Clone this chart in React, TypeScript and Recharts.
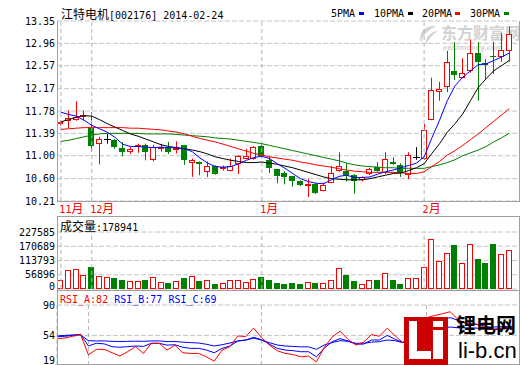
import React from "react";
import {
  ComposedChart,
  Bar,
  Line,
  XAxis,
  YAxis,
  CartesianGrid,
  ReferenceLine,
} from "recharts";

// trading days shown on the chart (2013-11-26 .. 2014-02-24)
const dates = [
  "11-26", "11-27", "11-28", "11-29",
  "12-02", "12-03", "12-04", "12-05", "12-06", "12-09", "12-10", "12-11",
  "12-12", "12-13", "12-16", "12-17", "12-18", "12-19", "12-20", "12-23",
  "12-24", "12-25", "12-26", "12-27", "12-30", "12-31",
  "01-02", "01-03", "01-06", "01-07", "01-08", "01-09", "01-10", "01-13",
  "01-14", "01-15", "01-16", "01-17", "01-20", "01-21", "01-22", "01-23",
  "01-24", "01-27", "01-28", "01-29", "01-30",
  "02-07", "02-10", "02-11", "02-12", "02-13", "02-14", "02-17", "02-18",
  "02-19", "02-20", "02-21", "02-24",
];

const opens = [
  11.55, 11.6, 11.63, 11.68, 11.49, 11.21, 11.3, 11.27, 11.14, 11.07, 11.16, 11.19,
  10.92, 11.11, 11.14, 11.11, 11.18, 10.88, 10.89, 10.71, 10.82, 10.78, 10.74, 10.85,
  10.95, 10.94, 11.17, 10.92, 10.76, 10.7, 10.64, 10.56, 10.47, 10.5, 10.39, 10.53,
  10.73, 10.73, 10.66, 10.57, 10.68, 10.81, 10.69, 10.89, 10.83, 10.66, 10.98, 10.95,
  11.63, 12.12, 12.19, 12.48, 12.36, 12.47, 12.8, 12.61, 12.74, 12.73, 12.82,
];
const highs = [
  11.61, 11.79, 11.95, 11.79, 11.76, 11.33, 11.38, 11.29, 11.24, 11.15, 11.21, 11.21,
  11.19, 11.21, 11.24, 11.25, 11.19, 10.95, 10.9, 10.9, 10.83, 10.83, 10.95, 11.01,
  11.12, 11.17, 11.19, 10.99, 10.77, 10.73, 10.65, 10.57, 10.6, 10.52, 10.53, 10.82,
  11.06, 10.87, 10.68, 10.64, 10.79, 10.89, 11.06, 10.97, 10.87, 11.06, 11.15, 11.55,
  12.36, 12.29, 12.83, 12.98, 12.7, 13.03, 12.98, 12.69, 12.99, 13.14, 13.25,
];
const lows = [
  11.53, 11.48, 11.61, 11.62, 11.07, 10.85, 11.21, 11.12, 10.99, 11.03, 11.05, 10.92,
  10.9, 11.07, 11.03, 11.04, 10.84, 10.63, 10.66, 10.63, 10.67, 10.74, 10.73, 10.68,
  10.94, 10.93, 10.97, 10.7, 10.52, 10.5, 10.46, 10.47, 10.28, 10.33, 10.38, 10.52,
  10.72, 10.55, 10.34, 10.55, 10.66, 10.72, 10.68, 10.84, 10.63, 10.59, 10.93, 10.93,
  11.62, 11.96, 12.11, 12.32, 12.35, 12.45, 11.96, 12.34, 12.43, 12.64, 12.64,
];
const closes = [
  11.59, 11.65, 11.68, 11.71, 11.17, 11.3, 11.3, 11.15, 11.06, 11.12, 11.18, 11.06,
  11.15, 11.15, 11.06, 11.14, 10.92, 10.92, 10.85, 10.82, 10.68, 10.8, 10.82, 10.99,
  10.99, 11.15, 11.0, 10.79, 10.64, 10.62, 10.56, 10.49, 10.51, 10.35, 10.49, 10.69,
  10.82, 10.66, 10.56, 10.62, 10.76, 10.74, 10.95, 10.85, 10.69, 11.02, 10.98, 11.44,
  12.15, 12.17, 12.63, 12.41, 12.44, 12.8, 12.64, 12.59, 12.72, 12.84, 13.13,
];
const volumes = [
  35600, 77700, 81700, 55300, 86900, 50000, 47400, 43500, 35600, 31600, 31600, 35600,
  47400, 29000, 25000, 31600, 44800, 50000, 31600, 35600, 21000, 25000, 34200, 34200,
  29000, 39500, 46000, 35600, 23700, 19800, 23700, 19800, 27700, 23700, 23700, 34200,
  85600, 55300, 31600, 18400, 34000, 34000, 62000, 34000, 20000, 42000, 42000, 88200,
  200200, 113300, 144900, 173800, 105400, 180400, 118500, 102700, 177800, 140900, 156700,
];

const ma5 = [
  11.76, 11.72, 11.69, 11.62, 11.53, 11.47, 11.41, 11.32, 11.2, 11.16, 11.16, 11.15,
  11.14, 11.15, 11.14, 11.14, 11.12, 11.07, 10.96, 10.87, 10.81, 10.8, 10.81, 10.86,
  10.92, 10.97, 10.99, 10.95, 10.86, 10.78, 10.69, 10.6, 10.55, 10.52, 10.51, 10.58,
  10.64, 10.66, 10.62, 10.62, 10.63, 10.68, 10.72, 10.75, 10.79, 10.83, 10.87, 10.98,
  11.31, 11.62, 11.96, 12.22, 12.37, 12.48, 12.59, 12.6, 12.66, 12.72, 12.79,
];
const ma10 = [
  11.59, 11.63, 11.67, 11.7, 11.69, 11.63, 11.56, 11.5, 11.44, 11.38, 11.34, 11.29,
  11.24, 11.19, 11.16, 11.14, 11.12, 11.1, 11.07, 11.03, 10.98, 10.95, 10.92, 10.9,
  10.88, 10.88, 10.89, 10.87, 10.85, 10.82, 10.79, 10.75, 10.71, 10.67, 10.63, 10.6,
  10.59, 10.58, 10.58, 10.58, 10.6, 10.63, 10.66, 10.69, 10.7, 10.74, 10.79, 10.86,
  11.04, 11.21, 11.41, 11.56, 11.73, 11.96, 12.19, 12.34, 12.48, 12.57, 12.66,
];
const ma20 = [
  11.46, 11.47, 11.48, 11.49, 11.49, 11.49, 11.49, 11.49, 11.49, 11.48, 11.48, 11.47,
  11.46, 11.45, 11.43, 11.41, 11.38, 11.34, 11.3, 11.27, 11.24, 11.2, 11.16, 11.12,
  11.08, 11.04, 11.01, 10.98, 10.96, 10.94, 10.92, 10.89, 10.87, 10.84, 10.82, 10.8,
  10.77, 10.75, 10.73, 10.72, 10.71, 10.71, 10.71, 10.71, 10.7, 10.69, 10.69, 10.72,
  10.81, 10.9, 11.01, 11.09, 11.18, 11.28, 11.38, 11.49, 11.6, 11.71, 11.82,
];
const ma30 = [
  11.25, 11.27, 11.3, 11.33, 11.36, 11.38, 11.39, 11.39, 11.39, 11.39, 11.39, 11.38,
  11.38, 11.38, 11.38, 11.37, 11.36, 11.35, 11.34, 11.33, 11.31, 11.3, 11.29, 11.27,
  11.25, 11.23, 11.21, 11.18, 11.15, 11.12, 11.09, 11.06, 11.03, 11.0, 10.97, 10.94,
  10.91, 10.87, 10.84, 10.82, 10.81, 10.8, 10.79, 10.79, 10.78, 10.78, 10.78, 10.78,
  10.81, 10.84, 10.88, 10.93, 11.0, 11.05, 11.1, 11.16, 11.24, 11.31, 11.39,
];

const rsiA = [
  50, 51, 53, 55, 31, 37.5, 37.5, 33.5, 29.6, 34.9, 40.7, 32.7,
  44.7, 44.7, 36.7, 42.4, 33.5, 32.7, 32.7, 28.7, 23.6, 36.7, 40.7, 53.4,
  52.6, 62.6, 51.8, 42.7, 35.9, 32.8, 31.4, 28.7, 29.5, 22.8, 40, 52,
  59, 49.5, 42.7, 46, 55, 53, 62.6, 53.5, 45.5, 57, 58, 75,
  77.5, 79.6, 82, 73, 68, 68, 65, 61, 62, 63, 64,
];
const rsiB = [
  52.6, 53, 54, 55.4, 41.5, 44.7, 44, 40.7, 40, 40.7, 41.5, 41,
  44.7, 44.7, 42.5, 43, 39.9, 38.7, 38.7, 36.7, 33.5, 38.7, 41.5, 47.4,
  48.6, 51.8, 49, 43.9, 38.7, 36.7, 36, 34.7, 34.7, 28.7, 39, 46.6,
  50.2, 47.5, 43.7, 43.7, 48.6, 48.6, 54, 49.5, 45.5, 51, 53, 66,
  71, 73, 75, 72, 69, 68, 66, 64, 64, 64.5, 65,
];
const rsiC = [
  53.4, 54, 54.6, 54.6, 47.8, 47.5, 47.5, 47, 46.8, 47, 47.2, 47,
  47.5, 47.5, 46.6, 46.8, 46, 45.5, 45, 43.5, 41.5, 43, 45, 47.5,
  48.5, 50.7, 48.6, 45.5, 42.7, 41.5, 41, 40.5, 40.5, 37.5, 42.7, 45.5,
  47.8, 47, 44.7, 44.7, 46, 46.6, 48.6, 47.8, 45.5, 47.5, 49, 55,
  59, 62, 64, 63, 63, 63, 62, 61, 61, 62, 62,
];

const monthStarts = ["11-26", "12-02", "01-02", "02-07"];
const monthLabels = ["11", "12", "1", "2"];
const priceTicks = [10.21, 10.6, 11.0, 11.39, 11.78, 12.17, 12.57, 12.96, 13.35];
const volumeTicks = [0, 56896, 113793, 170689, 227585];
const rsiTicks = [19, 54, 90];

const rows = dates.map((date, i) => ({
  date,
  open: opens[i],
  high: highs[i],
  low: lows[i],
  close: closes[i],
  volume: volumes[i],
  ma5: ma5[i],
  ma10: ma10[i],
  ma20: ma20[i],
  ma30: ma30[i],
  rsiA: rsiA[i],
  rsiB: rsiB[i],
  rsiC: rsiC[i],
}));

const RED = "#ff0000";
const GREEN = "#008000";
const BLUE = "#0000ff";
const GRID = "#c6c6c6";
const FRAME = "#a0a0a0";
const MONTH_LINE = "#b4b4b4";
const MONO = "'DejaVu Sans Mono', 'Liberation Mono', monospace";
const CJK = "'Noto Sans CJK SC', sans-serif";

const candleColor = (d: any) =>
  d.close > d.open ? RED : d.close < d.open ? GREEN : "#000";

const CandleShape = (props: any) => {
  const { x, width, payload } = props;
  const y = Math.min(props.y, props.y + props.height);
  const h = Math.abs(props.height);
  const { open, close, high, low } = payload;
  const n = Math.floor(x + width / 2);
  const cx = n + 0.5;
  const perUnit = high > low ? h / (high - low) : 0;
  const yAt = (v: number) => y + (high - v) * perUnit;
  const top = Math.round(yAt(Math.max(open, close)));
  const bottom = Math.round(yAt(Math.min(open, close)));
  const color = candleColor(payload);

  if (close > open) {
    return (
      <g>
        <line x1={cx} x2={cx} y1={y} y2={top} stroke={color} />
        <line x1={cx} x2={cx} y1={bottom} y2={y + h} stroke={color} />
        <rect
          x={n - 2.5}
          y={top + 0.5}
          width={5}
          height={Math.max(bottom - top - 1, 1)}
          fill="#fff"
          stroke={color}
        />
      </g>
    );
  }
  if (close < open) {
    return (
      <g>
        <line x1={cx} x2={cx} y1={y} y2={y + h} stroke={color} />
        <rect x={n - 3} y={top} width={6} height={Math.max(bottom - top, 1)} fill={color} />
      </g>
    );
  }
  return (
    <g>
      <line x1={cx} x2={cx} y1={y} y2={y + h} stroke={color} />
      <line x1={n - 3} x2={n + 4} y1={top + 0.5} y2={top + 0.5} stroke={color} />
    </g>
  );
};

const VolumeShape = (props: any) => {
  const { x, width, payload } = props;
  const y = Math.min(props.y, props.y + props.height);
  const h = Math.abs(props.height);
  const n = Math.floor(x + width / 2);
  const up = payload.close >= payload.open;
  if (up) {
    return (
      <rect
        x={n - 2.5}
        y={Math.round(y) + 0.5}
        width={5}
        height={Math.max(Math.round(h) - 1, 1)}
        fill="#fff"
        stroke={RED}
      />
    );
  }
  return <rect x={n - 3} y={Math.round(y)} width={6} height={Math.round(h)} fill={GREEN} />;
};

const MonthTick = (props: any) => {
  const { x, payload } = props;
  const idx = monthStarts.indexOf(payload.value);
  if (idx < 0) return <g />;
  return (
    <text x={x - 1.5} y={213} fill={RED}>
      <tspan fontFamily={MONO} fontSize={10}>
        {monthLabels[idx]}
      </tspan>
      <tspan fontFamily={CJK} fontSize={12}>
        月
      </tspan>
    </text>
  );
};

const valueTick = (format: (v: number) => string, minY: number, maxY: number) =>
  (props: any) => {
    const { x, y, payload } = props;
    const ty = Math.max(minY, Math.min(maxY, y));
    return (
      <text
        x={x}
        y={ty}
        dy="0.35em"
        textAnchor="end"
        fontFamily={MONO}
        fontSize={10}
        fill="#000"
      >
        {format(payload.value)}
      </text>
    );
  };

const xPadding = { left: 0, right: 6 };

const monthLines = monthStarts.map((m) => (
  <ReferenceLine key={m} x={m} stroke={MONTH_LINE} strokeDasharray="4 3" />
));

const PriceChart = () => (
  <ComposedChart
    width={520}
    height={216}
    data={rows}
    margin={{ top: 21, right: 1, bottom: 0, left: 0 }}
  >
    <CartesianGrid vertical={false} stroke={GRID} strokeDasharray="5 2" />
    <XAxis
      dataKey="date"
      interval={0}
      height={15}
      tickLine={false}
      axisLine={false}
      padding={xPadding}
      tick={MonthTick}
    />
    <YAxis
      type="number"
      domain={[10.21, 13.35]}
      ticks={priceTicks}
      interval={0}
      width={57}
      allowDataOverflow
      axisLine={false}
      tickLine={false}
      tickSize={0}
      tickMargin={2}
      tick={valueTick((v) => v.toFixed(2), 0, 400)}
    />
    {monthLines}
    <Line dataKey="ma30" stroke={GREEN} strokeWidth={1} dot={false} isAnimationActive={false} />
    <Line dataKey="ma20" stroke={RED} strokeWidth={1} dot={false} isAnimationActive={false} />
    <Line dataKey="ma10" stroke="#000" strokeWidth={1} dot={false} isAnimationActive={false} />
    <Line dataKey="ma5" stroke={BLUE} strokeWidth={1} dot={false} isAnimationActive={false} />
    <Bar
      dataKey={(d: any) => [d.low, d.high]}
      shape={CandleShape}
      isAnimationActive={false}
    />
  </ComposedChart>
);

const VolumeChart = () => (
  <ComposedChart
    width={520}
    height={74}
    data={rows}
    margin={{ top: 16, right: 1, bottom: 1, left: 0 }}
  >
    <CartesianGrid vertical={false} stroke={GRID} strokeDasharray="5 2" />
    <XAxis dataKey="date" hide padding={xPadding} />
    <YAxis
      type="number"
      domain={[0, 227585]}
      ticks={volumeTicks}
      interval={0}
      width={57}
      allowDataOverflow
      axisLine={false}
      tickLine={false}
      tickSize={0}
      tickMargin={2}
      tick={valueTick((v) => String(v), 0, 70)}
    />
    {monthLines}
    <Bar dataKey="volume" shape={VolumeShape} isAnimationActive={false} />
  </ComposedChart>
);

const RsiChart = () => (
  <ComposedChart
    width={520}
    height={75}
    data={rows}
    margin={{ top: 15, right: 1, bottom: 0, left: 0 }}
  >
    <CartesianGrid vertical={false} stroke={GRID} strokeDasharray="5 2" />
    <XAxis dataKey="date" hide padding={xPadding} />
    <YAxis
      type="number"
      domain={[19, 90]}
      ticks={rsiTicks}
      interval={0}
      width={57}
      allowDataOverflow
      axisLine={false}
      tickLine={false}
      tickSize={0}
      tickMargin={2}
      tick={valueTick((v) => String(v), 0, 70)}
    />
    {monthLines}
    <Line dataKey="rsiC" stroke={BLUE} strokeWidth={1} dot={false} isAnimationActive={false} />
    <Line dataKey="rsiB" stroke={BLUE} strokeWidth={1} dot={false} isAnimationActive={false} />
    <Line dataKey="rsiA" stroke={RED} strokeWidth={1} dot={false} isAnimationActive={false} />
  </ComposedChart>
);

const abs = (left: number, top: number, extra: React.CSSProperties = {}): React.CSSProperties => ({
  position: "absolute",
  left,
  top,
  ...extra,
});

const legendItems = [
  { label: "5PMA", color: BLUE, left: 331, mark: 359 },
  { label: "10PMA", color: "#000", left: 374, mark: 408 },
  { label: "20PMA", color: RED, left: 422, mark: 455 },
  { label: "30PMA", color: GREEN, left: 470, mark: 504 },
];

export default function App() {
  return (
    <div
      style={{
        position: "absolute",
        left: 0,
        top: 0,
        width: 520,
        height: 365,
        background: "#fff",
        overflow: "hidden",
        fontFamily: MONO,
        color: "#000",
      }}
    >
      {/* eastmoney watermark */}
      <svg style={abs(416, 23)} width={24} height={24}>
        <path d="M20 3 C8 2 2 10 5 20 C6 13 11 8 20 3 Z" fill="#d4d4d4" />
        <path d="M22 8 C14 9 9 14 10 22 C13 16 16 12 22 8 Z" fill="#d4d4d4" />
      </svg>
      <div style={abs(441, 23, { fontFamily: CJK, fontSize: 16, fontWeight: 700, color: "#d2d2d2", lineHeight: "18px", whiteSpace: "nowrap" })}>
        东方财富网
      </div>
      <div style={abs(443, 43, { fontFamily: "'Liberation Sans', sans-serif", fontSize: 8, fontWeight: 700, color: "#d2d2d2", lineHeight: "9px", whiteSpace: "nowrap" })}>
        eastmoney.com
      </div>

      <div style={abs(0, 0)}>
        <PriceChart />
      </div>
      <div style={abs(0, 216)}>
        <VolumeChart />
      </div>
      <div style={abs(0, 290)}>
        <RsiChart />
      </div>

      {/* panel frames */}
      <div style={abs(57, 21, { width: 463, height: 181, boxSizing: "border-box", borderLeft: `1px solid ${FRAME}`, borderRight: `1px solid ${FRAME}`, borderBottom: `1px solid ${FRAME}` })} />
      <div style={abs(57, 216, { width: 463, height: 75, boxSizing: "border-box", border: `1px solid ${FRAME}` })} />
      <div style={abs(57, 290, { width: 463, height: 75, boxSizing: "border-box", borderLeft: `1px solid ${FRAME}`, borderRight: `1px solid ${FRAME}`, borderBottom: `1px solid ${FRAME}` })} />

      {/* title */}
      <div style={abs(61, 6, { fontSize: 12, lineHeight: "16px", whiteSpace: "nowrap" })}>
        <span style={{ fontFamily: CJK }}>江特电机</span>
        <span style={{ fontFamily: MONO, fontSize: 10 }}>[002176] 2014-02-24</span>
      </div>

      {/* legend */}
      {legendItems.map((it) => (
        <React.Fragment key={it.label}>
          <div style={abs(it.left, 7, { fontSize: 10, lineHeight: "14px" })}>{it.label}</div>
          <div style={abs(it.mark, 12, { width: 5, height: 3, background: it.color })} />
        </React.Fragment>
      ))}

      {/* volume caption */}
      <div style={abs(60, 218, { fontSize: 12, lineHeight: "16px", whiteSpace: "nowrap" })}>
        <span style={{ fontFamily: CJK }}>成交量</span>
        <span style={{ fontFamily: MONO, fontSize: 10 }}>:178941</span>
      </div>

      {/* RSI caption */}
      <div style={abs(60, 293, { fontSize: 10, lineHeight: "14px", whiteSpace: "nowrap" })}>
        <span style={{ color: RED }}>RSI_A:82</span>{" "}
        <span style={{ color: BLUE }}>RSI_B:77</span>{" "}
        <span style={{ color: BLUE }}>RSI_C:69</span>
      </div>

      {/* li-b.cn logo */}
      <svg style={abs(404, 317)} width={44} height={48}>
        <rect x={0} y={0} width={44} height={48} fill="#cc0000" />
        <rect x={5} y={4} width={8} height={38} fill="#fff" />
        <rect x={5} y={34} width={22} height={8} fill="#fff" />
        <rect x={29} y={4} width={10} height={6} fill="#fff" />
        <rect x={29} y={13} width={10} height={29} fill="#fff" />
      </svg>
      <div style={abs(456, 313, { fontFamily: CJK, fontSize: 20, fontWeight: 700, lineHeight: "24px", whiteSpace: "nowrap" })}>
        锂电网
      </div>
      <div style={abs(458, 339, { fontFamily: "'Liberation Sans', Arial, sans-serif", fontSize: 22, lineHeight: "24px", whiteSpace: "nowrap" })}>
        li-b.cn
      </div>
    </div>
  );
}
